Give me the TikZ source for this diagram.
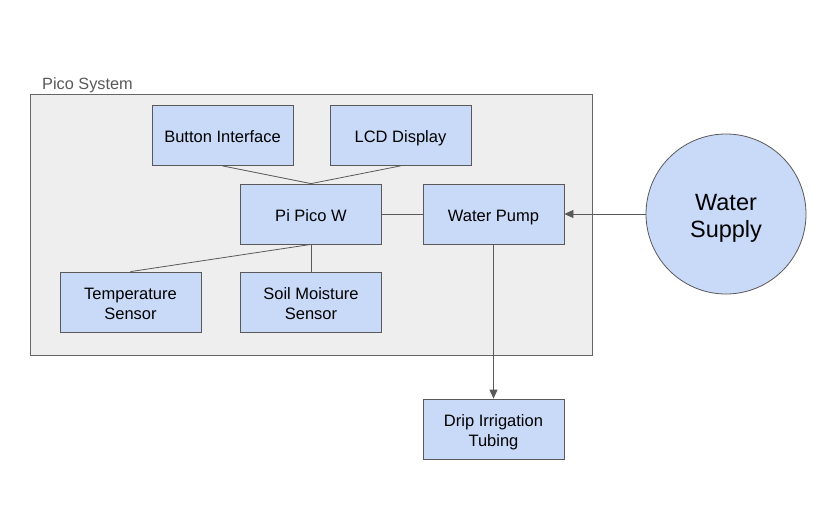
\documentclass[tikz,border=0pt]{standalone}
\usepackage{fontspec}
\setmainfont{Liberation Sans}
\usetikzlibrary{arrows.meta}
\definecolor{boxfill}{HTML}{C9DAF8}
\definecolor{boxline}{HTML}{595959}
\definecolor{contfill}{HTML}{EEEEEE}
\definecolor{contline}{HTML}{666666}
\definecolor{labelgray}{HTML}{595959}
\begin{document}
\begin{tikzpicture}[x=1pt,y=-1pt,
  blk/.style={draw=boxline,fill=boxfill,line width=0.8pt,minimum width=141pt,minimum height=60pt,inner sep=0pt,align=center,text height=14.5pt,text depth=-3pt,font=\fontsize{16.5}{20}\selectfont},
  twoline/.style={text height=45pt,text depth=10pt},
  conn/.style={draw=boxline,line width=0.8pt},
  arr/.style={conn,-{Triangle[length=9pt,width=8pt]}}]
\useasboundingbox (0,0) rectangle (829,528);
\node[draw=contline,fill=contfill,line width=0.8pt,minimum width=562pt,minimum height=261pt,inner sep=0pt] (cont) at (311,224.5) {};
\node[anchor=base west,text=labelgray,font=\fontsize{16.3}{19}\selectfont,inner sep=0pt] (contlabel) at (42,89) {Pico System};
\node[blk] (btn) at (222.5,135.5) {Button Interface};
\node[blk] (lcd) at (400.5,135.5) {LCD Display};
\node[blk] (pico) at (311,214) {Pi Pico W};
\node[blk] (pump) at (493.5,214) {Water Pump};
\node[blk,twoline] (temp) at (130.5,302) {Temperature\\Sensor};
\node[blk,twoline] (soil) at (311,302) {Soil Moisture\\Sensor};
\node[blk,twoline] (drip) at (493.5,429) {Drip Irrigation\\Tubing};
\node[circle,draw=boxline,fill=boxfill,line width=0.8pt,minimum size=160pt,inner sep=0pt,align=center,text height=52pt,text depth=5pt,font=\fontsize{23.5}{27}\selectfont] (supply) at (726,214) {Water\\Supply};
\draw[conn] (btn.south) -- (pico.north);
\draw[conn] (lcd.south) -- (pico.north);
\draw[conn] (pico.east) -- (pump.west);
\draw[conn] (pico.south) -- (temp.north);
\draw[conn] (pico.south) -- (soil.north);
\draw[arr] (pump.south) -- (drip.north);
\draw[arr] (supply.west) -- (pump.east);
\end{tikzpicture}
\end{document}
